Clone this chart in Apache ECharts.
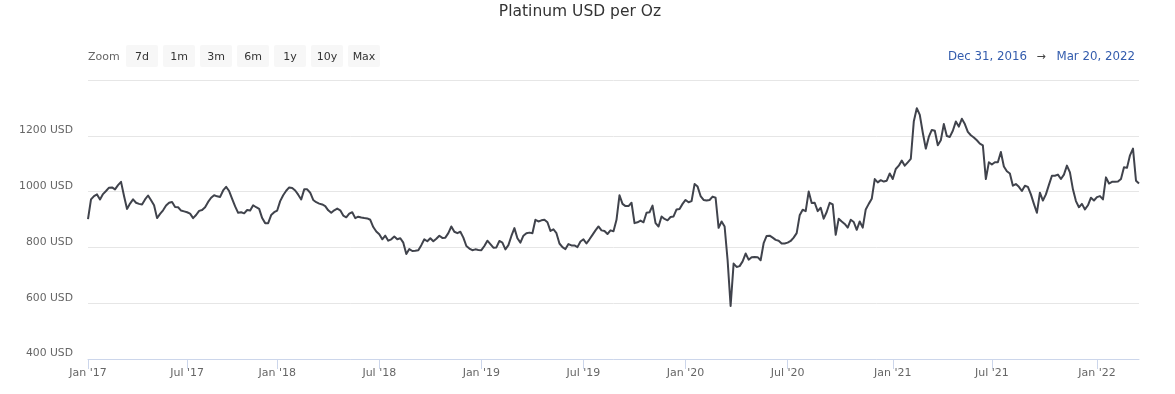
<!DOCTYPE html>
<html><head><meta charset="utf-8">
<script src="https://cdn.jsdelivr.net/npm/echarts@6/dist/echarts.min.js"></script>
<style>html,body{margin:0;padding:0;background:#fff}#c{width:1175px;height:394px}</style>
</head><body><div id="c"></div>
<script>
const titleText = 'Platinum USD per Oz';
const zoomLabel = 'Zoom';
const zoomButtons = ['7d', '1m', '3m', '6m', '1y', '10y', 'Max'];
const rangeFrom = 'Dec 31, 2016';
const rangeTo = 'Mar 20, 2022';
const monthNames = ['Jan','Feb','Mar','Apr','May','Jun','Jul','Aug','Sep','Oct','Nov','Dec'];
const yTicks = [400, 600, 800, 1000, 1200, 1400];

const dates = [
'2016-12-31','2017-01-06','2017-01-11','2017-01-17','2017-01-22','2017-01-28','2017-02-02','2017-02-08','2017-02-13','2017-02-19','2017-02-24','2017-03-02','2017-03-07','2017-03-13','2017-03-18','2017-03-24','2017-03-29','2017-04-04','2017-04-09','2017-04-15','2017-04-20','2017-04-26','2017-05-01','2017-05-07','2017-05-12','2017-05-18','2017-05-23','2017-05-29','2017-06-03','2017-06-09','2017-06-14','2017-06-20','2017-06-25','2017-07-01',
'2017-07-07','2017-07-13','2017-07-19','2017-07-26','2017-08-01','2017-08-07','2017-08-13','2017-08-19','2017-08-25','2017-08-31','2017-09-06','2017-09-13','2017-09-19','2017-09-25','2017-10-01','2017-10-07','2017-10-13','2017-10-19','2017-10-26','2017-11-01','2017-11-07','2017-11-13','2017-11-19','2017-11-25','2017-12-01','2017-12-07','2017-12-14','2017-12-20','2017-12-26','2018-01-01',
'2018-01-06','2018-01-12','2018-01-17','2018-01-22','2018-01-28','2018-02-02','2018-02-07','2018-02-13','2018-02-18','2018-02-23','2018-03-01','2018-03-06','2018-03-11','2018-03-17','2018-03-22','2018-03-27','2018-04-02','2018-04-07','2018-04-12','2018-04-17','2018-04-23','2018-04-28','2018-05-03','2018-05-09','2018-05-14','2018-05-19','2018-05-25','2018-05-30','2018-06-04','2018-06-10','2018-06-15','2018-06-20','2018-06-26','2018-07-01',
'2018-07-06','2018-07-12','2018-07-17','2018-07-23','2018-07-28','2018-08-02','2018-08-08','2018-08-13','2018-08-19','2018-08-24','2018-08-30','2018-09-04','2018-09-09','2018-09-15','2018-09-20','2018-09-26','2018-10-01','2018-10-06','2018-10-12','2018-10-17','2018-10-23','2018-10-28','2018-11-02','2018-11-08','2018-11-13','2018-11-19','2018-11-24','2018-11-30','2018-12-05','2018-12-10','2018-12-16','2018-12-21','2018-12-27','2019-01-01',
'2019-01-06','2019-01-12','2019-01-17','2019-01-22','2019-01-28','2019-02-02','2019-02-07','2019-02-13','2019-02-18','2019-02-23','2019-03-01','2019-03-06','2019-03-11','2019-03-17','2019-03-22','2019-03-27','2019-04-02','2019-04-07','2019-04-12','2019-04-17','2019-04-23','2019-04-28','2019-05-03','2019-05-09','2019-05-14','2019-05-19','2019-05-25','2019-05-30','2019-06-04','2019-06-10','2019-06-15','2019-06-20','2019-06-26','2019-07-01',
'2019-07-06','2019-07-12','2019-07-17','2019-07-23','2019-07-28','2019-08-02','2019-08-08','2019-08-13','2019-08-19','2019-08-24','2019-08-30','2019-09-04','2019-09-09','2019-09-15','2019-09-20','2019-09-26','2019-10-01','2019-10-06','2019-10-12','2019-10-17','2019-10-23','2019-10-28','2019-11-02','2019-11-08','2019-11-13','2019-11-19','2019-11-24','2019-11-30','2019-12-05','2019-12-10','2019-12-16','2019-12-21','2019-12-27','2020-01-01',
'2020-01-06','2020-01-12','2020-01-17','2020-01-22','2020-01-28','2020-02-02','2020-02-07','2020-02-13','2020-02-18','2020-02-24','2020-02-29','2020-03-05','2020-03-11','2020-03-16','2020-03-21','2020-03-27','2020-04-01','2020-04-06','2020-04-12','2020-04-17','2020-04-22','2020-04-28','2020-05-03','2020-05-08','2020-05-14','2020-05-19','2020-05-25','2020-05-30','2020-06-04','2020-06-10','2020-06-15','2020-06-20','2020-06-26','2020-07-01',
'2020-07-06','2020-07-12','2020-07-17','2020-07-22','2020-07-27','2020-08-02','2020-08-07','2020-08-12','2020-08-17','2020-08-23','2020-08-28','2020-09-02','2020-09-07','2020-09-13','2020-09-18','2020-09-23','2020-09-28','2020-10-04','2020-10-09','2020-10-14','2020-10-19','2020-10-25','2020-10-30','2020-11-04','2020-11-09','2020-11-15','2020-11-20','2020-11-25','2020-11-30','2020-12-06','2020-12-11','2020-12-16','2020-12-21','2020-12-27','2021-01-01',
'2021-01-06','2021-01-12','2021-01-17','2021-01-23','2021-01-28','2021-02-03','2021-02-08','2021-02-14','2021-02-19','2021-02-25','2021-03-02','2021-03-08','2021-03-13','2021-03-19','2021-03-24','2021-03-30','2021-04-04','2021-04-10','2021-04-15','2021-04-21','2021-04-26','2021-05-02','2021-05-07','2021-05-13','2021-05-18','2021-05-24','2021-05-29','2021-06-04','2021-06-09','2021-06-15','2021-06-20','2021-06-26','2021-07-01',
'2021-07-06','2021-07-12','2021-07-17','2021-07-22','2021-07-27','2021-08-02','2021-08-07','2021-08-12','2021-08-17','2021-08-23','2021-08-28','2021-09-02','2021-09-07','2021-09-13','2021-09-18','2021-09-23','2021-09-28','2021-10-04','2021-10-09','2021-10-14','2021-10-19','2021-10-25','2021-10-30','2021-11-04','2021-11-09','2021-11-15','2021-11-20','2021-11-25','2021-11-30','2021-12-06','2021-12-11','2021-12-16','2021-12-21','2021-12-27','2022-01-01',
'2022-01-07','2022-01-12','2022-01-18','2022-01-23','2022-01-29','2022-02-03','2022-02-09','2022-02-15','2022-02-20','2022-02-26','2022-03-03','2022-03-09','2022-03-14','2022-03-20'
];

const prices = [
901,972,984,990,972,991,1002,1014,1015,1008,
1023,1035,984,938,957,972,960,956,954,972,
986,969,951,905,920,933,950,960,963,945,
944,932,929,926,921,905,916,931,934,944,
963,978,987,983,981,1004,1017,1002,974,947,
924,926,922,934,932,951,944,938,905,887,
887,916,926,932,966,987,1003,1015,1013,1004,
989,972,1008,
1008,996,970,962,957,954,948,933,924,933,
939,933,914,908,921,926,905,910,907,905,
904,899,873,857,847,829,842,824,829,839,
829,833,817,776,794,787,788,790,808,829,
822,833,822,831,842,834,835,851,875,856,
851,856,835,805,796,790,793,791,790,805,
824,812,799,800,823,817,793,808,841,869,
833,
817,842,851,853,851,899,893,897,899,890,
859,865,851,814,801,794,812,807,807,801,
821,829,814,829,845,861,875,861,859,848,
861,858,899,987,956,948,948,960,887,890,
896,890,924,926,950,887,875,911,902,897,
909,911,936,938,956,970,962,966,1027,1018,
984,970,968,970,982,978,
870,893,875,754,590,742,730,733,750,778,
756,765,766,765,754,815,841,842,835,827,
824,814,814,817,823,835,851,915,935,930,
1000,959,960,930,942,903,927,960,954,845,
903,893,884,871,899,891,863,893,871,936,
956,974,1045,1033,1041,1036,1039,1065,1045,1081,
1093,1111,1093,1105,1117,1251,1299,1275,1211,1154,
1196,1221,1218,1166,1184,1242,1199,1196,
1218,1251,1233,1261,1242,1214,1202,1194,1184,1172,
1166,1045,1105,1097,1105,1105,1142,1090,1073,1065,
1021,1027,1017,1002,1021,1017,990,956,924,996,
968,990,1024,1057,1057,1061,1045,1061,1093,1069,
1008,966,944,956,936,951,978,968,980,984,
972,1051,1029,1035,1035,1036,1045,1087,1085,1130,
1154,1039,1029
];

const FONT = 'DejaVu Sans';

// half-year tick labels: first sample on/after Jan 1 or Jul 1
const tickLabels = {};
let prevKey = null;
dates.forEach((s, i) => {
  const d = new Date(Date.UTC(+s.slice(0, 4), +s.slice(5, 7) - 1, +s.slice(8, 10)) + 86400000);
  const m = d.getUTCMonth(), y = d.getUTCFullYear();
  const key = y * 12 + m;
  if (key !== prevKey && (m === 0 || m === 6)) tickLabels[i] = monthNames[m] + " '" + String(y).slice(2);
  prevKey = key;
});
const isTick = (i) => Object.prototype.hasOwnProperty.call(tickLabels, i);

const graphics = [
  { type: 'text', x: 580, y: 12, style: { text: titleText, fill: '#333333', fontSize: 15.5, fontFamily: FONT, textAlign: 'center', textVerticalAlign: 'middle' } },
  { type: 'text', x: 88, y: 57, style: { text: zoomLabel, fill: '#666666', fontSize: 11, fontFamily: FONT, textAlign: 'left', textVerticalAlign: 'middle' } }
];
zoomButtons.forEach((b, k) => {
  const bx = 126 + 37 * k;
  graphics.push({ type: 'rect', shape: { x: bx, y: 45, width: 32, height: 22, r: 2 }, style: { fill: '#f7f7f7' } });
  graphics.push({ type: 'text', x: bx + 16, y: 57, style: { text: b, fill: '#333333', fontSize: 11, fontFamily: FONT, textAlign: 'center', textVerticalAlign: 'middle' } });
});
graphics.push({ type: 'text', x: 1027, y: 57, style: { text: rangeFrom, fill: '#335cad', fontSize: 11.8, fontFamily: FONT, textAlign: 'right', textVerticalAlign: 'middle' } });
graphics.push({ type: 'text', x: 1041, y: 57, style: { text: '\u2192', fill: '#444444', fontSize: 11, fontFamily: FONT, textAlign: 'center', textVerticalAlign: 'middle' } });
graphics.push({ type: 'text', x: 1135, y: 57, style: { text: rangeTo, fill: '#335cad', fontSize: 11.8, fontFamily: FONT, textAlign: 'right', textVerticalAlign: 'middle' } });

const chart = echarts.init(document.getElementById('c'), null, { renderer: 'canvas' });
chart.setOption({
  animation: false,
  backgroundColor: '#ffffff',
  textStyle: { fontFamily: FONT },
  grid: { left: 88, top: 80, width: 1051, height: 279, containLabel: false, outerBoundsMode: 'none' },
  xAxis: {
    type: 'category',
    data: dates,
    boundaryGap: false,
    axisLine: { lineStyle: { color: '#ccd6eb', width: 1 } },
    axisTick: { interval: isTick, length: 10, lineStyle: { color: '#ccd6eb' } },
    axisLabel: { interval: isTick, formatter: (v, i) => tickLabels[i] || '', color: '#666666', fontSize: 11, margin: 9, fontFamily: FONT },
    splitLine: { show: false }
  },
  yAxis: {
    type: 'value',
    min: yTicks[0],
    max: yTicks[yTicks.length - 1],
    interval: 200,
    axisLine: { show: false },
    axisTick: { show: false },
    axisLabel: { formatter: (v) => String(v) + ' USD', color: '#666666', fontSize: 10.8, margin: 15, verticalAlign: 'bottom', showMaxLabel: false, fontFamily: FONT },
    splitLine: { lineStyle: { color: '#e6e6e6', width: 1 } }
  },
  series: [{
    type: 'line',
    data: prices,
    showSymbol: false,
    symbol: 'none',
    lineStyle: { color: '#40434c', width: 2, join: 'round' },
    itemStyle: { color: '#40434c' },
    z: 3
  }],
  graphic: graphics
});
</script>
</body></html>
